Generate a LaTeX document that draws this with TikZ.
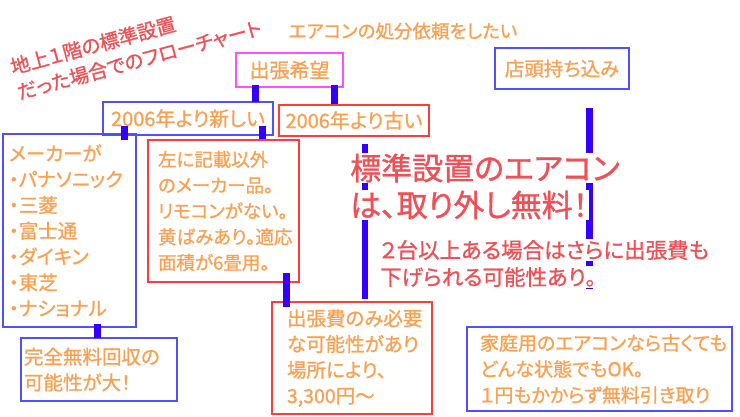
\documentclass[tikz,border=0pt]{standalone}
\usepackage{fontspec}
\setmainfont{Noto Sans CJK JP}[RawFeature=+palt, FakeBold=1]
\usetikzlibrary{calc}
\definecolor{txtorange}{RGB}{250,160,80}
\definecolor{txtred}{RGB}{240,80,85}
\definecolor{boxblue}{RGB}{80,80,255}
\definecolor{boxred}{RGB}{255,60,60}
\definecolor{boxpink}{RGB}{255,80,255}
\definecolor{barblue}{RGB}{51,0,255}

\begin{document}
\begin{tikzpicture}[x=1pt, y=-1pt,
    box/.style={draw, line width=1.2pt, rectangle, inner ysep=0pt, text=txtorange, font=\fontsize{19.5}{25.8}\selectfont},
    multi/.style={box, align=left},
    bar/.style={line width=7pt, barblue},
    note/.style={inner sep=0pt, align=left, text=txtred},
    redline/.style={inner sep=1pt, fill=white, text=txtred, anchor=west}
  ]
  \useasboundingbox (0,0) rectangle (740,416);

  \node[note, rotate=15, anchor=west, font=\fontsize{19.5}{26}\selectfont] (title) at (14,80) {地上１階の標準設置\\だった場合でのフローチャート};
  \node[inner sep=0pt, text=txtorange, font=\fontsize{18.5}{22}\selectfont] (wish) at (403,31) {エアコンの処分依頼をしたい};

  \node[box, draw=boxpink, minimum width=107pt, minimum height=34pt, font=\fontsize{20}{24}\selectfont] (hope) at (289.5,70) {出張希望};
  \node[box, draw=boxblue, minimum width=134pt, minimum height=41pt] (shop) at (562,68.5) {店頭持ち込み};
  \node[box, draw=boxblue, minimum width=170pt, minimum height=33pt, font=\fontsize{20}{24}\selectfont] (new) at (188,118.5) {2006年より新しい};
  \node[box, draw=boxred, minimum width=150pt, minimum height=31pt, font=\fontsize{20}{24}\selectfont] (old) at (354,120.5) {2006年より古い};

  \node[multi, draw=boxblue, inner xsep=6pt, text width=121pt, minimum height=193pt] (makers) at (69.5,230.5) {メーカーが\\・パナソニック\\・三菱\\・富士通\\・ダイキン\\・東芝\\・ナショナル};
  \node[multi, draw=boxred, inner xsep=10pt, text width=131pt, minimum height=142pt, font=\fontsize{18.5}{25.8}\selectfont] (notlisted) at (223.5,211) {左に記載以外\\のメーカー品。\\リモコンがない。\\黄ばみあり。適応\\面積が6畳用。};
  \node[multi, draw=boxred, inner xsep=15pt, text width=130pt, minimum height=112pt] (fee) at (352,358) {出張費のみ必要\\な可能性があり\\場所により、\\3,300円～};
  \node[multi, draw=boxblue, inner xsep=3pt, text width=150pt, minimum height=63pt] (free) at (99,369.5) {完全無料回収の\\可能性が大！};
  \node[multi, draw=boxblue, inner xsep=13pt, text width=239pt, minimum height=84pt, font=\fontsize{19}{26}\selectfont] (home) at (599.5,369) {家庭用のエアコンなら古くても\\どんな状態でもOK。\\１円もかからず無料引き取り};

  \draw[bar] ($(hope.south -| 255.5,0)+(0,-3)$) -- ($(new.north -| 255.5,0)+(0,1)$);
  \draw[bar] ($(hope.south -| 334,0)+(0,-3)$) -- (old.north -| 334,0);
  \draw[bar] ($(new.south -| 124.5,0)+(0,-10)$) -- ($(makers.north -| 124.5,0)+(0,7)$);
  \draw[bar] ($(new.south -| 262.5,0)+(0,-10)$) -- (notlisted.north -| 262.5,0);
  \draw[bar] ($(makers.south -| 97.5,0)+(0,-4)$) -- ($(free.north -| 97.5,0)+(0,1)$);
  \draw[bar] ($(notlisted.south -| 286.5,0)+(0,-10)$) -- ($(fee.north -| 286.5,0)+(0,6)$);
  \draw[bar, line width=6pt] ($(old.south -| 365,0)+(0,7)$) -- ($(fee.north -| 365,0)+(0,-2)$);
  \draw[bar] ($(shop.south -| 589,0)+(0,18)$) -- ($(home.north -| 589,0)+(0,-37)$);

  % red notes over the bars
  \node[redline, font=\fontsize{31}{37}\selectfont] (std1) at (349,168) {標準設置のエアコン};
  \node[redline, font=\fontsize{31}{37}\selectfont] (std2) at (349,205) {は、取り外し無料！};
  \node[redline, font=\fontsize{21.5}{27}\selectfont] (more1) at (379,250) {２台以上ある場合はさらに出張費も};
  \node[redline, font=\fontsize{21.5}{27}\selectfont] (more2) at (379,277) {下げられる可能性あり。};
\end{tikzpicture}
\end{document}
